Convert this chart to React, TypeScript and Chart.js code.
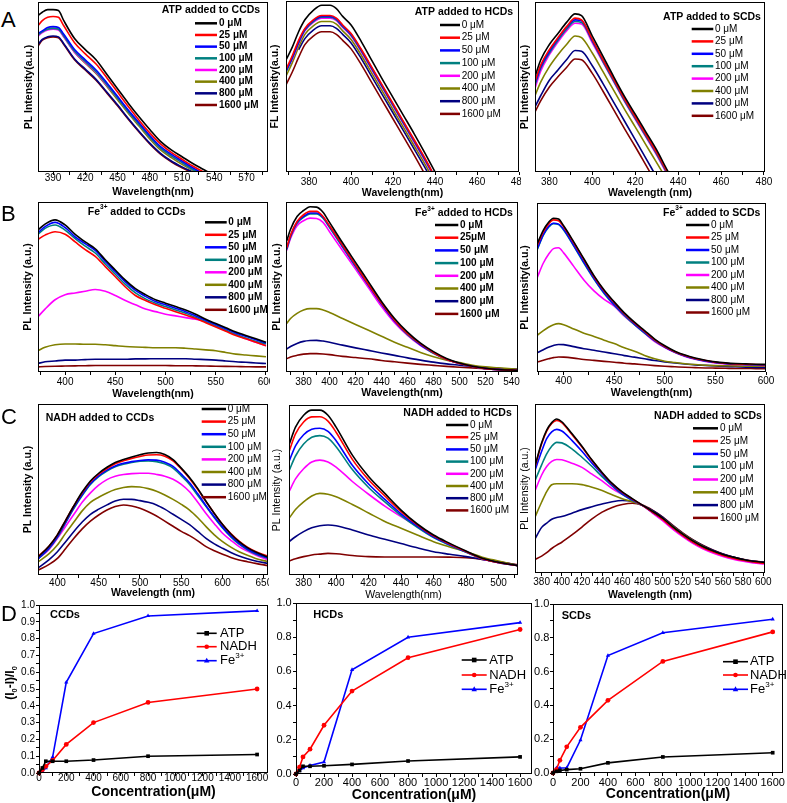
import React, { useEffect, useRef } from 'react';
import { Chart, registerables } from 'chart.js';

Chart.register(...registerables);

const FONT = "'Liberation Sans', Arial, Helvetica, sans-serif";
const COLORS = ['#000000', '#ff0000', '#0000ff', '#008080', '#ff00ff', '#808000', '#000080', '#800000'];
const DOSE_LABELS = ['0 μM', '25 μM', '50 μM', '100 μM', '200 μM', '400 μM', '800 μM', '1600 μM'];
const DOSE_LABELS_B2 = ['0 μM', '25μM', '50 μM', '100 μM', '200 μM', '400 μM', '800 μM', '1600 μM'];

// ---------- Row A: ATP ----------
const A1_WL = [376, 380, 385, 390, 395, 400, 410, 420, 430, 440, 450, 460, 470, 480, 490, 500, 510, 520, 530, 540];
const A1_I = [
  [92, 94, 95.5, 95.5, 95, 89, 78.5, 72, 66, 57.5, 49, 40.5, 32.5, 25, 18, 13, 9, 5, 1.5, -2],
  [86, 89, 91, 91.5, 91, 86, 76, 69.5, 63.5, 55.5, 47, 38.5, 30.5, 23, 16.5, 11.5, 7.5, 3.5, 0, -3],
  [81.5, 83, 85, 85.5, 85, 81, 72, 66, 60, 52.5, 44.5, 36.5, 29, 21.5, 15, 10.5, 6.5, 2.5, -1, -4],
  [80.5, 82.5, 84, 84.5, 84, 80, 71, 65, 59, 51.5, 43.5, 35.5, 28, 20.5, 14, 9.5, 5.5, 1.5, -1.5, -4],
  [80, 82, 83.5, 84, 83.5, 79.5, 70.5, 64.5, 58.5, 51, 43.5, 35.5, 28, 20.5, 14, 9.5, 5.5, 1.5, -1.5, -4],
  [80.5, 82.5, 84, 84.5, 84, 79.5, 70.5, 64, 58, 50.5, 42.5, 34.5, 27, 19.5, 13, 8.5, 4.5, 1, -2, -5],
  [75, 78, 79.5, 80, 79.5, 75.5, 66.5, 60.5, 54.5, 47, 39.5, 31.5, 24, 17, 11, 6.5, 3, 0, -3, -6],
  [74, 77.5, 79, 79.5, 79, 75, 66, 60, 54, 46.5, 39, 31, 23.5, 16.5, 10.5, 6, 2.5, -0.5, -3, -6],
];

const A2_WL = [369, 372, 375, 378, 382, 386, 390, 393, 396, 400, 405, 410, 415, 420, 425, 430, 435, 440];
const A2_I = [
  [65.5, 73, 82, 89, 94.5, 97.5, 97.5, 95.5, 91, 86, 76, 65, 54, 43.5, 33, 22.5, 11.5, 0],
  [60, 68, 77, 84, 89, 91.5, 91.5, 90, 86, 81, 71.5, 61, 50.5, 40, 29.5, 19, 8.5, -3],
  [59, 67, 76, 83.5, 88.5, 91, 91, 89.5, 85.5, 80.5, 71, 60.5, 50, 39.5, 29, 18.5, 8, -3],
  [58.5, 66.5, 75.5, 83, 88, 90.5, 90.5, 89, 85, 80, 70.5, 60, 49.5, 39, 28.5, 18, 7.5, -3.5],
  [59, 66, 75, 82.5, 87.5, 90, 90, 88.5, 84.5, 79.5, 70, 59.5, 49, 38.5, 28, 17.5, 7, -4],
  [56, 64, 73, 80.5, 85.5, 88, 88, 86.5, 82.5, 77.5, 68, 57.5, 47, 36.5, 26, 15.5, 5, -6],
  [null, null, 71.5, 78, 83, 85.5, 85.5, 84, 80.5, 75.5, 66, 55.5, 45, 34.5, 24, 13.5, 3, -8],
  [51, 58.5, 67, 74.5, 79.5, 82, 82, 80.5, 77, 72, 62.5, 52, 41.5, 31, 20.5, 10, -1, -12],
];

const A3_WL = [373, 376, 380, 384, 388, 392, 395, 400, 405, 410, 415, 420, 425, 430, 435, 440];
const A3_I = [
  [55, 66, 75, 81.5, 88, 93, 92, 80, 68, 56, 44.5, 34, 23.5, 13, 1, -10],
  [52, 63, 72, 79, 85.5, 90.5, 89.5, 78, 66, 54.5, 43, 32.5, 22, 11.5, 0, -11],
  [51, 62, 71, 78.5, 85, 89.5, 89, 77.5, 66, 54.5, 43, 32.5, 22, 11.5, 0, -11],
  [50, 61, 70, 77.5, 84, 88.5, 88, 77, 65, 53.5, 42, 31.5, 21, 10.5, -1, -12],
  [48, 59.5, 69, 76.5, 83, 87.5, 87, 76, 64.5, 53, 41.5, 31, 20.5, 10, -1.5, -12],
  [44, 53, 62, 69, 75, 80, 79, 70, 59, 48, 37, 26.5, 16, 5.5, -5, -15],
  [37.5, 45, 54, 60, 66, 71.5, 71, 62.5, 52, 41, 30, 19, 8, -3, -14, -25],
  [34.5, 42, 50, 56, 61.5, 66.5, 66, 58, 47.5, 36.5, 25.5, 15, 4, -7, -18, -29],
];

// ---------- Row B: Fe3+ ----------
const B1_WL = [373, 380, 390, 400, 410, 420, 430, 440, 450, 460, 470, 480, 490, 500, 510, 520, 530, 540, 550, 560, 570, 580, 590, 600];
const B1_I = [
  [83.5, 87, 89.5, 86.5, 81, 76.5, 72.5, 66, 60, 54, 49, 45.5, 42.5, 40.5, 38.5, 36.5, 34, 31, 28.5, 26, 23.5, 21.5, 19.5, 17.5],
  [78, 80.5, 82.5, 81, 76.5, 72, 68, 62, 56, 50, 45, 42, 39.5, 37.5, 35.5, 33.5, 31.5, 29, 26.5, 24, 21.5, 19.5, 17.5, 15.5],
  [82, 85.5, 88, 85, 79.5, 75.5, 71.5, 65, 59, 53, 48, 44.5, 41.5, 39.5, 37.5, 35.5, 33, 30.5, 28, 25.5, 23, 21, 19, 17],
  [81, 84.5, 86.5, 83.5, 78.5, 74, 70, 63.5, 57.5, 51.5, 46.5, 43, 40.5, 38.5, 36.5, 34.5, 32, 29.5, 27, 24.5, 22, 20, 18, 16.5],
  [32.5, 37, 42.5, 45.5, 46.5, 47.5, 48.5, 47.5, 45, 42, 39.5, 37, 35.5, 34, 33, 32, 31, 29.5, 27, 24.5, 22, 19.5, 17.5, 15.5],
  [12.5, 14.5, 16, 16.5, 16.5, 16.3, 16.3, 16, 15.5, 15, 14.7, 14.5, 14.3, 14.3, 14.3, 14, 13.5, 13, 12.5, 11.5, 10.5, 10, 9.5, 9],
  [5, 6, 6.5, 7, 7, 7.3, 7.5, 7.5, 7.5, 7.5, 7.7, 7.7, 7.8, 7.8, 7.8, 7.8, 7.5, 7.3, 7, 6.5, 6, 5.7, 5.3, 5],
  [3, 3.2, 3.4, 3.5, 3.6, 3.7, 3.8, 3.8, 3.8, 3.8, 3.8, 3.8, 3.8, 3.8, 3.7, 3.7, 3.6, 3.5, 3.4, 3.3, 3.2, 3.1, 3, 3],
];

const B2_WL = [367, 370, 375, 380, 385, 390, 395, 400, 410, 420, 430, 440, 450, 460, 470, 480, 490, 500, 510, 520, 530, 545];
const B2_I = [
  [77, 84, 91.5, 95, 97.2, 97, 94, 88, 76, 64.5, 53, 41.5, 31.5, 23.5, 17, 12, 8, 5.3, 3.4, 2.2, 1.5, 1],
  [73, 80.5, 88.5, 92.5, 94.5, 94.5, 91.5, 86, 74.5, 63, 51.5, 40.5, 30.5, 22.5, 16.5, 11.5, 7.5, 5, 3.2, 2, 1.4, 1],
  [72.5, 80, 88, 91.5, 93.5, 93.5, 91, 85.5, 74, 62.5, 51, 40, 30, 22.5, 16, 11.5, 7.5, 5, 3.2, 2, 1.4, 1],
  [72, 79.5, 87.5, 91, 93, 93, 90.5, 85, 73.5, 62, 51, 40, 30, 22, 16, 11, 7.5, 5, 3.2, 2, 1.4, 1],
  [71.5, 78.5, 86, 89, 90.5, 90.3, 88, 82.5, 71.5, 60.5, 49.5, 38.5, 29, 21.5, 15.5, 11, 7.5, 5, 3.2, 2, 1.4, 1],
  [28.5, 31.5, 34.5, 36.5, 37.3, 37.3, 36.5, 35, 31.5, 28, 24.5, 21, 17.5, 14.5, 11.5, 9, 7, 5.5, 4, 3, 2.5, 1.6],
  [13.5, 15, 16.8, 18, 18.5, 18.6, 18.2, 17.5, 15.8, 14.2, 12.7, 11.2, 9.8, 8.3, 7, 5.8, 4.8, 4, 3.2, 2.5, 2, 1.6],
  [7.8, 8.8, 9.8, 10.5, 10.8, 10.8, 10.6, 10.2, 9.2, 8.5, 7.8, 6.8, 6, 5.2, 4.5, 3.9, 3.3, 2.8, 2.4, 2, 1.7, 1.4],
];

const B3_WL = [374, 380, 385, 390, 395, 400, 410, 420, 430, 440, 450, 460, 470, 480, 490, 500, 510, 520, 530, 540, 550, 560, 570, 580, 590, 600];
const B3_I = [
  [76, 84, 88.5, 91, 90.5, 86.5, 77, 67, 57, 48.5, 41.5, 35, 29.5, 24.5, 19.5, 15.5, 12.3, 10, 8.3, 7, 6, 5.4, 5, 4.8, 4.6, 4.5],
  [75, 83, 87.5, 90, 89.5, 86, 76.5, 66.5, 56.5, 48, 41, 34.5, 29, 24, 19, 15, 12, 9.7, 8, 6.8, 5.8, 5.2, 4.8, 4.6, 4.4, 4.3],
  [73, 81.5, 86, 88, 87.5, 84.5, 75, 65, 55.5, 47, 40, 34, 28.5, 23.5, 18.7, 14.8, 11.8, 9.5, 7.8, 6.6, 5.7, 5.1, 4.7, 4.5, 4.3, 4.2],
  [72.5, 81, 85.5, 87.8, 87.3, 84, 74.5, 64.5, 55, 46.5, 39.5, 33.5, 28, 23, 18.5, 14.7, 11.7, 9.4, 7.7, 6.5, 5.6, 5, 4.6, 4.4, 4.2, 4.1],
  [56, 64.5, 69.5, 73, 73.5, 70.5, 62.5, 54.5, 48, 43, 39, 33, 28, 23, 18, 14.5, 11.5, 9.2, 7.5, 6.3, 5.4, 4.8, 4.4, 4.2, 4, 3.9],
  [21.7, 24.5, 26.5, 28, 28.6, 28, 25.5, 23, 21, 18.8, 16.8, 14.3, 12.3, 9.8, 7.8, 6.4, 5.6, 4.9, 4.4, 4, 3.8, 3.7, 3.6, 3.5, 3.4, 3.4],
  [11.4, 13.2, 14.6, 15.7, 16.3, 16.2, 15, 13.8, 12.9, 11.8, 10.8, 9.7, 8.8, 7.8, 6.8, 6, 5.3, 4.7, 4.2, 3.9, 3.6, 3.3, 3.1, 2.9, 2.7, 2.6],
  [5.9, 7, 7.8, 8.5, 8.9, 8.8, 8.2, 7.4, 6.9, 6.3, 5.8, 5.2, 4.8, 4.3, 3.8, 3.4, 3.1, 2.8, 2.6, 2.4, 2.3, 2.2, 2.1, 2.1, 2, 2],
];

// ---------- Row C: NADH ----------
const C1_WL = [377, 390, 400, 410, 420, 430, 440, 450, 460, 470, 480, 490, 500, 510, 520, 530, 540, 550, 560, 570, 580, 590, 600, 610, 620, 630, 640, 655];
const C1_I = [
  [10.7, 17, 23.5, 32, 40.5, 48.5, 55, 59.5, 63, 65.8, 67.5, 69, 70.3, 71.3, 71.6, 70.5, 67.5, 62.5, 57, 50.5, 43, 36, 29.5, 24, 19.5, 16, 13.5, 10.5],
  [11, 17, 23.5, 32, 40.5, 48, 54.5, 59, 62.3, 65, 66.8, 68.2, 69.3, 70.2, 70.3, 69.5, 66.8, 62, 56.5, 50, 43, 36, 29.5, 24.2, 19.8, 16.3, 13.8, 11],
  [9.7, 16, 22.5, 31, 39.5, 47, 53.5, 58, 61.3, 63.8, 65.3, 66.3, 67, 67.3, 67.2, 66, 63.5, 59, 54, 47.5, 40.5, 34, 28, 22.8, 18.5, 15.2, 12.7, 10],
  [9.5, 15.5, 22, 30.5, 39, 46.5, 53, 57.5, 60.8, 63.3, 64.8, 65.8, 66.5, 66.7, 66.3, 65, 62.5, 58, 53, 46.5, 40, 33.5, 27.5, 22.3, 18, 14.8, 12.3, 9.7],
  [9.7, 15, 21.4, 28.5, 35.5, 42.5, 48, 52.5, 55.8, 57.7, 58.8, 59.3, 59.5, 59.5, 58.8, 57.8, 56, 53, 48.7, 42.5, 36, 30, 24.4, 20.3, 16.6, 14, 11.7, 8.8],
  [7.8, 12.5, 17.5, 24.5, 31, 37.5, 42.5, 45.5, 48, 50, 51.2, 51.7, 51.5, 50.5, 49, 46.8, 44.2, 41.3, 38, 33.5, 28.3, 23.5, 19.5, 16.3, 13.6, 11.5, 9.7, 7.8],
  [4.3, 9, 13.6, 19.5, 25.5, 31, 35.5, 38.5, 41, 43.3, 44.3, 44.2, 43.5, 42.5, 41, 38.5, 35.5, 32.5, 29.5, 25.5, 21.4, 18.2, 15.6, 13.2, 11.1, 9.5, 8.2, 6.8],
  [2.9, 6.2, 9.7, 15.5, 21.5, 27, 31.5, 35.1, 38, 40, 40.9, 40.3, 39, 37, 34.5, 31.5, 28.5, 25.5, 23, 20, 16.6, 14.2, 12.1, 10.3, 8.8, 7.8, 6.8, 5.5],
];

const C2_WL = [371, 375, 380, 385, 390, 395, 400, 410, 420, 430, 440, 450, 460, 470, 480, 490, 500, 512];
const C2_I = [
  [76.5, 87, 94, 97, 97, 94, 87, 70.5, 58, 48, 38.2, 30, 23.5, 18.6, 14.1, 9.8, 7.5, 5.5],
  [72.5, 83, 90, 93, 93.1, 90.5, 84, 68, 56, 46.5, 37.3, 29.5, 23, 18.2, 13.8, 9.6, 7.3, 5.5],
  [66.7, 76, 82.5, 85.8, 86.3, 84.5, 79, 64.5, 53.5, 44.5, 36, 28.7, 22.4, 17.8, 13.6, 9.6, 7.3, 5.5],
  [61.2, 70, 77, 81, 82, 80.5, 75.5, 62, 51.5, 43, 35, 28, 22, 17.5, 13.4, 9.5, 7.3, 5.5],
  [49, 56.5, 62.5, 66.5, 67.6, 66.5, 63.5, 55, 47.5, 40.5, 34.3, 28.5, 23, 18, 13.7, 9.5, 7.2, 5.5],
  [33.3, 38.5, 43, 46.5, 48, 47.5, 46, 41.5, 36.5, 31.5, 27.5, 23.5, 19.6, 16.5, 13.7, 10.5, 8.2, 5.5],
  [19.6, 22.5, 25.5, 27.8, 29, 29.4, 29, 26.5, 23.5, 21, 18.5, 16, 13.7, 12.2, 10.8, 9.2, 7.8, 5.8],
  [8.2, 9.5, 10.8, 11.8, 12.3, 12.7, 12.5, 11.5, 10.8, 10.6, 10.6, 10.6, 10.6, 10.5, 10.2, 9.2, 7.8, 6],
];

const C3_WL = [373, 380, 385, 390, 395, 400, 410, 420, 430, 440, 450, 460, 470, 480, 490, 500, 510, 520, 530, 540, 550, 560, 570, 580, 590, 601];
const C3_I = [
  [62.5, 77, 84.5, 89, 91.1, 89.5, 82.5, 75, 66.8, 59.5, 53, 48, 44, 40.2, 36.5, 32.5, 27.5, 23, 19, 15.7, 13.2, 11, 9.4, 8, 7, 6.3],
  [62, 76.5, 84, 88.5, 90.2, 89, 82, 74.5, 66.5, 59.2, 52.7, 47.7, 43.7, 40, 36, 31.8, 26.8, 22.3, 18.3, 15, 12.5, 10.4, 8.8, 7.5, 6.5, 5.8],
  [60, 72, 79.5, 83.5, 85, 84, 78.5, 72, 65, 58.5, 52, 47, 43.3, 40, 36, 32, 27, 22.5, 18.5, 15.3, 12.8, 10.7, 9, 7.7, 6.7, 6],
  [54, 64, 70.5, 75, 77.3, 77, 73.5, 68.5, 63, 57, 51.5, 46.5, 43, 40, 36, 32, 27, 22.5, 18.5, 15.3, 12.8, 10.7, 9, 7.7, 6.7, 6],
  [48, 58, 63, 66, 67.2, 67, 65, 62.5, 58.5, 54.5, 50, 46.5, 43.2, 40, 35.5, 31, 26, 21.5, 17.5, 14.3, 11.8, 9.8, 8.2, 7, 6, 5.3],
  [32.5, 42, 48.2, 52.2, 52.8, 52.8, 52.8, 52.3, 50.8, 48.8, 46.3, 44, 42.2, 40, 36.5, 32.5, 27.8, 23.3, 19.2, 15.8, 13, 10.8, 9, 7.6, 6.6, 5.8],
  [19.7, 27, 29.5, 31.8, 32.8, 33.4, 35.4, 37.5, 39.2, 40.8, 42.2, 42.9, 42.3, 40, 37, 33, 28, 23.5, 19.5, 16.2, 13.5, 11.2, 9.4, 8, 7, 6.3],
  [7.9, 10, 12, 14.5, 16.5, 18.2, 22.5, 27.2, 32, 36, 38.8, 40.5, 41.3, 40.2, 37.2, 33.2, 28.3, 23.7, 19.7, 16.4, 13.6, 11.3, 9.5, 8.1, 7.1, 6.4],
];

// ---------- Row D: quenching ratio ----------
const CONC = [0, 25, 50, 100, 200, 400, 800, 1600];
const CCD_ATP = [0, 0.03, 0.07, 0.07, 0.07, 0.077, 0.1, 0.11];
const CCD_NADH = [0, 0.02, 0.04, 0.075, 0.17, 0.3, 0.42, 0.5];
const CCD_FE = [0, 0.01, 0.03, 0.095, 0.54, 0.83, 0.935, 0.965];
const HCD_ATP = [0, 0.02, 0.045, 0.045, 0.048, 0.056, 0.076, 0.1];
const HCD_NADH = [0, 0.04, 0.1, 0.145, 0.285, 0.485, 0.68, 0.845];
const HCD_FE = [0, 0.02, 0.035, 0.05, 0.07, 0.61, 0.8, 0.885];
const SCD_ATP = [0, 0.01, 0.015, 0.02, 0.025, 0.06, 0.095, 0.12];
const SCD_NADH = [0, 0.02, 0.075, 0.155, 0.27, 0.43, 0.66, 0.835];
const SCD_FE = [0, 0.03, 0.03, 0.03, 0.195, 0.695, 0.83, 0.91];
const ANALYTES = ['ATP', 'NADH', 'Fe^{3+}'];
const ANALYTE_COLORS = ['#000000', '#ff0000', '#0000ff'];
const ANALYTE_MARKERS = ['rect', 'circle', 'triangle'];

// ---------- layout of panels ----------
const SPEC_PANELS: any[] = [
  { canvas: [18, 0, 270, 200], box: [38, 2, 268, 172], xMin: 376, xMax: 590, step: 15, major: 30, wl: A1_WL, ys: A1_I, labels: DOSE_LABELS,
    yTitle: 'PL Intensity(a.u.)', yTitleX: 29, yBold: true, xTitle: 'Wavelength(nm)', xTitleY: 191.7, xBold: true, tickY: 178,
    title: 'ATP added to CCDs', titleX: 211, titleY: 10, legend: { x1: 195, x2: 217, tx: 219, y0: 23.3, dy: 11.67, bold: true } },
  { canvas: [262, 0, 521, 200], box: [286, 1, 519, 172], xMin: 369, xMax: 480, step: 10, major: 20, wl: A2_WL, ys: A2_I, labels: DOSE_LABELS,
    yTitle: 'FL Intensity(a.u.)', yTitleX: 275, yBold: true, xTitle: 'Wavelength(nm)', xTitleY: 192.7, xBold: true, tickY: 182.5,
    title: 'ATP added to HCDs', titleX: 464, titleY: 11.7, legend: { x1: 440, x2: 460, tx: 461.7, y0: 25, dy: 12.7, bold: false } },
  { canvas: [512, 0, 787, 200], box: [535, 2, 765, 172], xMin: 373.3, xMax: 480.5, step: 10, major: 20, wl: A3_WL, ys: A3_I, labels: DOSE_LABELS,
    yTitle: 'PL Intensity(a.u.)', yTitleX: 525, yBold: true, xTitle: 'Wavelength (nm)', xTitleY: 192.7, xBold: true, tickY: 182.7,
    title: 'ATP added to SCDs', titleX: 712, titleY: 16.7, legend: { x1: 691.7, x2: 713.3, tx: 715, y0: 29, dy: 12.4, bold: false } },
  { canvas: [16, 200, 270, 400], box: [38, 202, 268, 372], xMin: 373, xMax: 602, step: 25, major: 50, wl: B1_WL, ys: B1_I, labels: DOSE_LABELS,
    yTitle: 'PL Intensity (a.u.)', yTitleX: 28.3, yBold: true, xTitle: 'Wavelength(nm)', xTitleY: 394, xBold: true, tickY: 382.7,
    title: 'Fe^{3+} added to CCDs', titleX: 136.7, titleY: 211.7, legend: { x1: 205, x2: 226.7, tx: 228.3, y0: 222.3, dy: 12.5, bold: true } },
  { canvas: [262, 200, 522, 400], box: [286, 202, 518, 372], xMin: 366.5, xMax: 545, step: 10, major: 20, wl: B2_WL, ys: B2_I, labels: DOSE_LABELS_B2,
    yTitle: 'PL Intensity (a.u.)', yTitleX: 277.3, yBold: true, xTitle: 'Wavelength(nm)', xTitleY: 393.3, xBold: true, tickY: 382.7,
    title: 'Fe^{3+} added to HCDs', titleX: 464, titleY: 213.3, legend: { x1: 435, x2: 458.3, tx: 460, y0: 225, dy: 12.7, bold: true } },
  { canvas: [512, 200, 787, 400], box: [537, 203, 766, 372], xMin: 373.7, xMax: 600, step: 25, major: 50, wl: B3_WL, ys: B3_I, labels: DOSE_LABELS,
    yTitle: 'PL Intensity(a.u.)', yTitleX: 525, yBold: true, xTitle: 'Wavelength(nm)', xTitleY: 392.7, xBold: true, tickY: 381.7,
    title: 'Fe^{3+} added to SCDs', titleX: 711.7, titleY: 212.7, legend: { x1: 686, x2: 709.3, tx: 711, y0: 225, dy: 12.5, bold: false } },
  { canvas: [16, 400, 269, 600], box: [38, 404, 268, 575], xMin: 376.5, xMax: 655, step: 25, major: 50, wl: C1_WL, ys: C1_I, labels: DOSE_LABELS,
    yTitle: 'PL Intensity (a.u.)', yTitleX: 28.3, yBold: true, xTitle: 'Wavelength (nm)', xTitleY: 593.3, xBold: true, tickY: 583.3,
    title: 'NADH added to CCDs', titleX: 100, titleY: 417.7, legend: { x1: 201.7, x2: 226, tx: 227.7, y0: 409, dy: 12.6, bold: false } },
  { canvas: [262, 400, 522, 600], box: [289, 405, 518, 575], xMin: 371, xMax: 512, step: 10, major: 20, wl: C2_WL, ys: C2_I, labels: DOSE_LABELS,
    yTitle: 'PL Intensity (a.u.)', yTitleX: 277.3, yBold: false, xTitle: 'Wavelength(nm)', xTitleY: 595, xBold: false, tickY: 583.3,
    title: 'NADH added to HCDs', titleX: 457.5, titleY: 413.3, legend: { x1: 446, x2: 468.3, tx: 470, y0: 425, dy: 12.2, bold: false } },
  { canvas: [512, 400, 787, 600], box: [535, 404, 765, 573], xMin: 373.4, xMax: 601.7, step: 10, major: 20, wl: C3_WL, ys: C3_I, labels: DOSE_LABELS,
    yTitle: 'PL Intensity (a.u.)', yTitleX: 525, yBold: false, xTitle: 'Wavelength (nm)', xTitleY: 595, xBold: true, tickY: 582.7,
    title: 'NADH added to SCDs', titleX: 708, titleY: 415.7, legend: { x1: 693, x2: 718, tx: 720, y0: 428.3, dy: 12.8, bold: false } },
];

const DOSE_PANELS: any[] = [
  { canvas: [0, 600, 275, 803], box: [39, 605, 268, 773], xMax: 1680, series: [CCD_ATP, CCD_NADH, CCD_FE], yStep: 0.05, yMajor: 0.1,
    tickFs: 10, tickY: 778.3, yTickPad: 1, xTitleY: 791.7, name: 'CCDs', nameX: 50, nameY: 615, yTitle: '(I_{0}-I)/I_{0}', yTitleX: 11, yTitleY: 683,
    legend: { x1: 196.7, x2: 216.7, tx: 220, ys: [633.3, 646.7, 660.7] } },
  { canvas: [266, 596, 535, 803], box: [296, 603, 532, 774], xMax: 1685, series: [HCD_ATP, HCD_NADH, HCD_FE], yStep: 0.1, yMajor: 0.2,
    tickFs: 11, tickY: 783.3, yTickPad: 1.3, xTitleY: 795, name: 'HCDs', nameX: 313.3, nameY: 615, yTitle: '',
    legend: { x1: 461.7, x2: 486.7, tx: 489.3, ys: [660, 675, 689.3] } },
  { canvas: [528, 598, 787, 803], box: [553, 604, 783, 773], xMax: 1675, series: [SCD_ATP, SCD_NADH, SCD_FE], yStep: 0.1, yMajor: 0.2,
    tickFs: 11, tickY: 783.3, yTickPad: 0.7, xTitleY: 794, name: 'SCDs', nameX: 561.7, nameY: 616, yTitle: '',
    legend: { x1: 723, x2: 748, tx: 750, ys: [661.7, 675, 689.3] } },
];

const LETTERS: [string, number][] = [['A', 28], ['B', 222], ['C', 425], ['D', 621.5]];

// ---------- drawing helpers ----------
function drawRich(ctx: CanvasRenderingContext2D, text: string, x: number, y: number, size: number, bold: boolean, align: string, color = '#000') {
  const parts = text.split(/(\^\{[^}]*\}|_\{[^}]*\})/).filter((s) => s);
  const segs = parts.map((p) => {
    if (p.startsWith('^{')) return { t: p.slice(2, -1), k: 1, w: 0 };
    if (p.startsWith('_{')) return { t: p.slice(2, -1), k: -1, w: 0 };
    return { t: p, k: 0, w: 0 };
  });
  const fontFor = (k: number) => `${bold ? 'bold ' : ''}${k ? size * 0.62 : size}px ${FONT}`;
  let total = 0;
  segs.forEach((s) => {
    ctx.font = fontFor(s.k);
    s.w = ctx.measureText(s.t).width;
    total += s.w;
  });
  let cx = align === 'center' ? x - total / 2 : align === 'right' ? x - total : x;
  ctx.textAlign = 'left';
  ctx.textBaseline = 'middle';
  ctx.fillStyle = color;
  segs.forEach((s) => {
    ctx.font = fontFor(s.k);
    const dy = s.k === 1 ? -size * 0.38 : s.k === -1 ? size * 0.3 : 0;
    ctx.fillText(s.t, cx, y + dy);
    cx += s.w;
  });
}

function drawMarker(ctx: CanvasRenderingContext2D, style: string, x: number, y: number, r: number, color: string) {
  ctx.fillStyle = color;
  if (style === 'rect') {
    ctx.fillRect(x - r, y - r, 2 * r, 2 * r);
  } else if (style === 'circle') {
    ctx.beginPath();
    ctx.arc(x, y, r, 0, Math.PI * 2);
    ctx.fill();
  } else {
    ctx.beginPath();
    ctx.moveTo(x, y - r * 1.3);
    ctx.lineTo(x + r * 1.2, y + r * 0.8);
    ctx.lineTo(x - r * 1.2, y + r * 0.8);
    ctx.closePath();
    ctx.fill();
  }
}

function overlay(ox: number, oy: number, draw: (ctx: CanvasRenderingContext2D, chart: any) => void) {
  return {
    id: 'overlay',
    afterDraw(chart: any) {
      const ctx = chart.ctx as CanvasRenderingContext2D;
      const a = chart.chartArea;
      ctx.save();
      ctx.strokeStyle = '#000';
      ctx.lineWidth = 1;
      const l = Math.round(a.left) + 0.5;
      const t = Math.round(a.top) + 0.5;
      const r = Math.round(a.right) - 0.5;
      const b = Math.round(a.bottom) - 0.5;
      ctx.strokeRect(l, t, r - l, b - t);
      ctx.translate(-ox, -oy);
      draw(ctx, chart);
      ctx.restore();
    },
  };
}

const TL = 3;

function specConfig(p: any) {
  const [cl, ct, cr, cb] = p.canvas;
  const [bl, bt, br, bb] = p.box;
  const tickFs = 10;
  const titleFs = 10.5;
  const tlh = titleFs * 1.2;
  return {
    type: 'line',
    data: {
      datasets: p.ys.map((vals: (number | null)[], i: number) => ({
        label: p.labels[i],
        data: p.wl.map((w: number, j: number) => ({ x: w, y: vals[j] })),
        borderColor: COLORS[i],
        backgroundColor: COLORS[i],
        borderWidth: 1.6,
        pointRadius: 0,
        pointHoverRadius: 0,
        cubicInterpolationMode: 'monotone',
        clip: 0,
        spanGaps: false,
      })),
    },
    options: {
      responsive: false,
      animation: false,
      devicePixelRatio: 1,
      events: [],
      layout: { padding: { left: 0, top: bt - ct, right: cr - br, bottom: 0 } },
      plugins: { legend: { display: false }, tooltip: { enabled: false } },
      scales: {
        x: {
          type: 'linear',
          min: p.xMin,
          max: p.xMax,
          afterFit: (s: any) => {
            s.height = cb - bb;
            s.paddingLeft = 0;
            s.paddingRight = 0;
          },
          border: { display: false },
          grid: { display: true, drawOnChartArea: false, drawTicks: true, tickLength: TL, tickColor: '#000', color: '#000' },
          ticks: {
            stepSize: p.step,
            autoSkip: false,
            maxRotation: 0,
            minRotation: 0,
            includeBounds: false,
            color: '#000',
            padding: p.tickY - bb - TL - (tickFs * 1.2) / 2,
            font: { family: FONT, size: tickFs, lineHeight: 1.2 },
            callback: (v: number) => (Math.round(v) % p.major === 0 ? String(Math.round(v)) : ''),
          },
          title: {
            display: true,
            text: p.xTitle,
            color: '#000',
            font: { family: FONT, size: titleFs, weight: p.xBold ? 'bold' : 'normal', lineHeight: 1.2 },
            padding: { top: 0, bottom: cb - p.xTitleY - tlh / 2 },
          },
        },
        y: {
          type: 'linear',
          min: 0,
          max: 100,
          afterFit: (s: any) => {
            s.width = bl - cl;
            s.paddingTop = 0;
            s.paddingBottom = 0;
          },
          border: { display: false },
          grid: { display: false },
          ticks: { display: false },
          title: {
            display: true,
            text: p.yTitle,
            color: '#000',
            font: { family: FONT, size: titleFs, weight: p.yBold ? 'bold' : 'normal', lineHeight: 1.2 },
            padding: { top: p.yTitleX - cl - tlh / 2, bottom: 0 },
          },
        },
      },
    },
    plugins: [
      overlay(cl, ct, (ctx, chart) => {
        drawRich(ctx, p.title, p.titleX, p.titleY, 10.5, true, 'center');
        const lg = p.legend;
        chart.data.datasets.forEach((ds: any, i: number) => {
          const y = lg.y0 + i * lg.dy;
          ctx.strokeStyle = ds.borderColor;
          ctx.lineWidth = 2.5;
          ctx.beginPath();
          ctx.moveTo(lg.x1, y);
          ctx.lineTo(lg.x2, y);
          ctx.stroke();
          drawRich(ctx, ds.label, lg.tx, y, 10, lg.bold, 'left');
        });
      }),
    ],
  };
}

function doseConfig(p: any) {
  const [cl, ct, cr, cb] = p.canvas;
  const [bl, bt, br, bb] = p.box;
  const titleFs = 14;
  return {
    type: 'line',
    data: {
      datasets: p.series.map((vals: number[], i: number) => ({
        label: ANALYTES[i],
        data: CONC.map((c, j) => ({ x: c, y: vals[j] })),
        borderColor: ANALYTE_COLORS[i],
        backgroundColor: ANALYTE_COLORS[i],
        borderWidth: 1.6,
        pointStyle: ANALYTE_MARKERS[i],
        pointRadius: i === 0 ? 2.6 : 2.4,
        pointBorderWidth: 0,
        pointHoverRadius: 0,
        tension: 0,
        clip: false,
      })),
    },
    options: {
      responsive: false,
      animation: false,
      devicePixelRatio: 1,
      events: [],
      layout: { padding: { left: 0, top: bt - ct, right: cr - br, bottom: 0 } },
      plugins: { legend: { display: false }, tooltip: { enabled: false } },
      scales: {
        x: {
          type: 'linear',
          min: 0,
          max: p.xMax,
          afterFit: (s: any) => {
            s.height = cb - bb;
            s.paddingLeft = 0;
            s.paddingRight = 0;
          },
          border: { display: false },
          grid: { display: true, drawOnChartArea: false, drawTicks: true, tickLength: TL, tickColor: '#000' },
          ticks: {
            stepSize: 100,
            autoSkip: false,
            maxRotation: 0,
            minRotation: 0,
            includeBounds: false,
            color: '#000',
            padding: p.tickY - bb - TL - (p.tickFs * 1.2) / 2,
            font: { family: FONT, size: p.tickFs, lineHeight: 1.2 },
            callback: (v: number) => (Math.round(v) % 200 === 0 ? String(Math.round(v)) : ''),
          },
          title: {
            display: true,
            text: 'Concentration(μM)',
            color: '#000',
            font: { family: FONT, size: titleFs, weight: 'bold', lineHeight: 1.2 },
            padding: { top: 0, bottom: cb - p.xTitleY - (titleFs * 1.2) / 2 },
          },
        },
        y: {
          type: 'linear',
          min: 0,
          max: 1,
          afterFit: (s: any) => {
            s.width = bl - cl;
            s.paddingTop = 0;
            s.paddingBottom = 0;
          },
          border: { display: false },
          grid: { display: true, drawOnChartArea: false, drawTicks: true, tickLength: TL, tickColor: '#000' },
          ticks: {
            stepSize: p.yStep,
            autoSkip: false,
            includeBounds: false,
            color: '#000',
            padding: p.yTickPad,
            font: { family: FONT, size: p.tickFs, lineHeight: 1.2 },
            callback: (v: number) => {
              const k = v / p.yMajor;
              return Math.abs(k - Math.round(k)) < 1e-6 ? v.toFixed(1) : '';
            },
          },
          title: { display: false },
        },
      },
    },
    plugins: [
      overlay(cl, ct, (ctx, chart) => {
        drawRich(ctx, p.name, p.nameX, p.nameY, 11, true, 'left');
        if (p.yTitle) {
          ctx.save();
          ctx.translate(p.yTitleX, p.yTitleY);
          ctx.rotate(-Math.PI / 2);
          drawRich(ctx, p.yTitle, 0, 0, 12, true, 'center');
          ctx.restore();
        }
        const lg = p.legend;
        chart.data.datasets.forEach((ds: any, i: number) => {
          const y = lg.ys[i];
          ctx.strokeStyle = ds.borderColor;
          ctx.lineWidth = 1.6;
          ctx.beginPath();
          ctx.moveTo(lg.x1, y);
          ctx.lineTo(lg.x2, y);
          ctx.stroke();
          drawMarker(ctx, ANALYTE_MARKERS[i], (lg.x1 + lg.x2) / 2, y, 2.3, ds.borderColor);
          drawRich(ctx, ds.label, lg.tx, y, 13, false, 'left');
        });
      }),
    ],
  };
}

function ChartBox({ canvas, build }: { canvas: number[]; build: () => any }) {
  const ref = useRef<HTMLCanvasElement>(null);
  useEffect(() => {
    const chart = new Chart(ref.current as HTMLCanvasElement, build());
    return () => chart.destroy();
  }, []);
  const [l, t, r, b] = canvas;
  return (
    <canvas
      ref={ref}
      width={r - l}
      height={b - t}
      style={{ position: 'absolute', left: l, top: t, width: r - l, height: b - t }}
    />
  );
}

export default function App() {
  return (
    <div style={{ position: 'absolute', left: 0, top: 0, width: 787, height: 803, background: '#fff', overflow: 'hidden' }}>
      {SPEC_PANELS.map((p, i) => (
        <ChartBox key={'s' + i} canvas={p.canvas} build={() => specConfig(p)} />
      ))}
      {DOSE_PANELS.map((p, i) => (
        <ChartBox key={'d' + i} canvas={p.canvas} build={() => doseConfig(p)} />
      ))}
      {LETTERS.map(([ch, base]) => (
        <div
          key={ch}
          style={{ position: 'absolute', left: 1, top: base - 18.6, fontSize: 22, lineHeight: '22px', fontFamily: FONT, color: '#000' }}
        >
          {ch}
        </div>
      ))}
    </div>
  );
}
